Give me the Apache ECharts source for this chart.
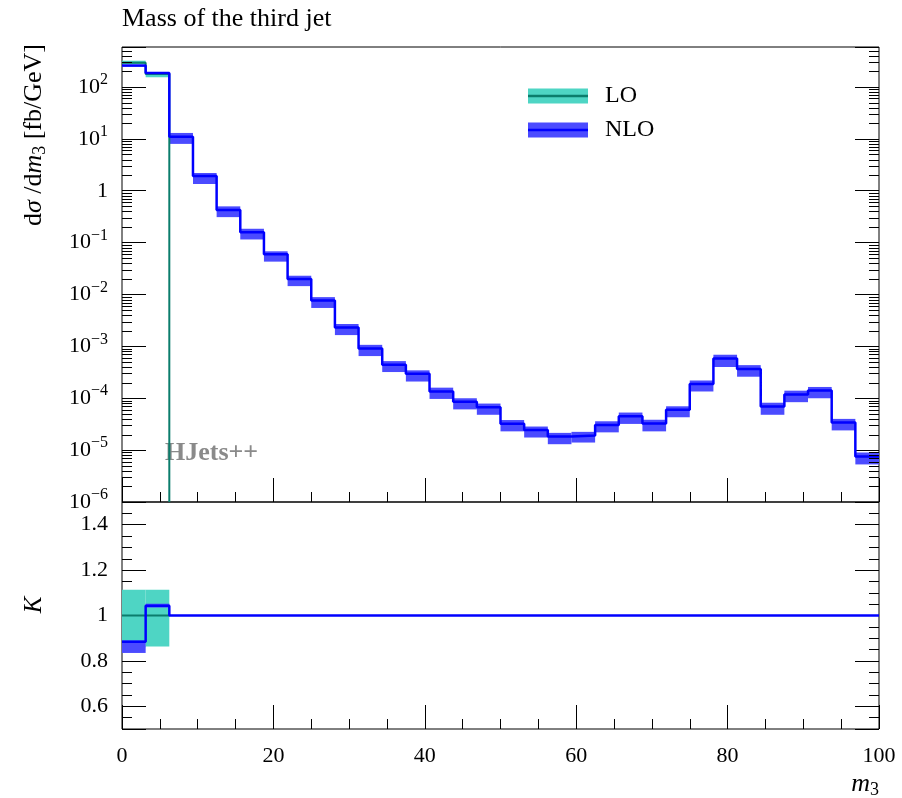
<!DOCTYPE html>
<html><head><meta charset="utf-8">
<script src="https://cdn.jsdelivr.net/npm/echarts@6/dist/echarts.min.js"></script>
<style>html,body{margin:0;padding:0;background:#fff}#c{width:902px;height:798px}</style>
</head><body><div id="c"></div>
<script>
// ---- data ----
const binEdges = [0, 3.125, 6.25, 9.375, 12.5, 15.625, 18.75, 21.875, 25, 28.125, 31.25, 34.375, 37.5, 40.625, 43.75, 46.875, 50, 53.125, 56.25, 59.375, 62.5, 65.625, 68.75, 71.875, 75, 78.125, 81.25, 84.375, 87.5, 90.625, 93.75, 96.875, 100];
const nloValues = [260, 186, 11.0, 1.93, 0.427, 0.158, 0.0597, 0.0199, 0.00764, 0.0023, 9.08e-4, 4.41e-4, 2.95e-4, 1.35e-4, 8.53e-5, 6.73e-5, 3.21e-5, 2.43e-5, 1.83e-5, 1.91e-5, 3.05e-5, 4.52e-5, 3.26e-5, 5.97e-5, 1.89e-4, 5.82e-4, 3.68e-4, 6.92e-5, 1.18e-4, 1.41e-4, 3.40e-5, 7.53e-6];
const nloUpper = [262, 187, 13.0, 2.2, 0.50, 0.185, 0.068, 0.023, 0.0089, 0.0027, 1.07e-3, 5.2e-4, 3.45e-4, 1.6e-4, 1.0e-4, 7.9e-5, 3.8e-5, 2.85e-5, 2.15e-5, 2.25e-5, 3.6e-5, 5.3e-5, 3.85e-5, 7.0e-5, 2.2e-4, 6.9e-4, 4.35e-4, 8.2e-5, 1.4e-4, 1.65e-4, 4.0e-5, 9.0e-6];
const nloLower = [245, 184, 8.0, 1.35, 0.31, 0.115, 0.043, 0.0145, 0.0055, 0.00165, 6.5e-4, 3.2e-4, 2.1e-4, 9.7e-5, 6.1e-5, 4.8e-5, 2.3e-5, 1.75e-5, 1.3e-5, 1.4e-5, 2.2e-5, 3.2e-5, 2.3e-5, 4.3e-5, 1.35e-4, 4.0e-4, 2.6e-4, 4.8e-5, 8.4e-5, 1.0e-4, 2.4e-5, 5.3e-6];
const loValues = [294, 178, 0];
const loUpper = [321, 194];
const loLower = [277, 154];
const kNlo = [0.884, 1.043, 1, 1, 1, 1, 1, 1, 1, 1, 1, 1, 1, 1, 1, 1, 1, 1, 1, 1, 1, 1, 1, 1, 1, 1, 1, 1, 1, 1, 1, 1];
const kNloUpper = [0.89, 1.052];
const kNloLower = [0.835, 1.035];
const kLo = [1, 1];
const kLoUpper = [1.113, 1.113];
const kLoLower = [0.86, 0.863];
const xTickStep = 20;
const logMin = 1e-6, logMax = 590;
const legendNames = ['LO', 'NLO'];

// ---- helpers ----
const SERIF = '"Liberation Serif", "DejaVu Serif", serif';
const C_LO_BAND = '#4ed5c4', C_LO_LINE = '#0b7d6c', C_NLO_BAND = '#4b4bff', C_NLO_LINE = '#0000ff';

function stepPoints(vals, dropTo) {
  const pts = [];
  for (let i = 0; i < vals.length; i++) {
    const v = vals[i];
    if (v == null) break;
    if (v <= 0) { if (dropTo != null) pts.push([binEdges[i], dropTo]); break; }
    pts.push([binEdges[i], v], [binEdges[i + 1], v]);
  }
  return pts;
}
function bandData(lo, hi) {
  const d = [];
  for (let i = 0; i < lo.length; i++) {
    if (lo[i] != null && hi[i] != null) d.push([binEdges[i], binEdges[i + 1], lo[i], hi[i]]);
  }
  return d;
}
function bandRender(color) {
  return function (params, api) {
    const a = api.coord([api.value(0), api.value(3)]);
    const b = api.coord([api.value(1), api.value(2)]);
    return { type: 'rect', shape: { x: a[0], y: a[1], width: b[0] - a[0], height: b[1] - a[1] }, style: { fill: color } };
  };
}
// minor tick positions of the log axis (2..9 per decade)
const logMinorTicks = [];
for (let e = -6; e <= 2; e++) for (let m = 2; m <= 9; m++) { const v = m * Math.pow(10, e); if (v < logMax) logMinorTicks.push([0, v]); }

function logLabel(v) {
  const e = Math.log10(v), r = Math.round(e);
  if (Math.abs(e - r) > 1e-6) return '';
  if (r === 0) return '{b|1}';
  return '{b|10}{s|' + (r < 0 ? '\u2212' : '') + Math.abs(r) + '}';
}

const tickCommon = { show: true, inside: true, length: 24, lineStyle: { color: '#000', width: 1 } };
const minorCommon = { show: true, splitNumber: 4, length: 10, lineStyle: { color: '#000', width: 1 } };
const legendText = { fontFamily: SERIF, fontSize: 24, color: '#000', padding: [0, 0, 0, 12] };

const chart = echarts.init(document.getElementById('c'), null, { renderer: 'canvas' });
chart.setOption({
  animation: false,
  backgroundColor: '#fff',
  title: { text: 'Mass of the third jet', left: 117, top: 1, textStyle: { fontFamily: SERIF, fontSize: 26, fontWeight: 'normal', color: '#000' } },
  grid: [
    { left: 122, top: 47, width: 757, height: 455, show: true, borderColor: '#000', borderWidth: 1, backgroundColor: 'transparent' },
    { left: 122, top: 502, width: 757, height: 227, show: true, borderColor: '#000', borderWidth: 1, backgroundColor: 'transparent' }
  ],
  xAxis: [
    { gridIndex: 0, type: 'value', min: 0, max: 100, interval: xTickStep, axisLine: { show: false }, axisTick: tickCommon, minorTick: minorCommon, axisLabel: { show: false }, splitLine: { show: false } },
    { gridIndex: 1, type: 'value', min: 0, max: 100, interval: xTickStep, axisLine: { show: false }, axisTick: tickCommon, minorTick: minorCommon,
      axisLabel: { show: true, margin: 16, fontFamily: SERIF, fontSize: 22, color: '#000' }, splitLine: { show: false } }
  ],
  yAxis: [
    { gridIndex: 0, type: 'log', logBase: 10, min: logMin, max: logMax, interval: 1, axisLine: { show: false }, axisTick: tickCommon, splitLine: { show: false },
      axisLabel: { show: true, margin: 14, formatter: logLabel,
        rich: { b: { fontFamily: SERIF, fontSize: 22, color: '#000', lineHeight: 30 }, s: { fontFamily: SERIF, fontSize: 16, color: '#000', lineHeight: 14, verticalAlign: 'top' } } } },
    { gridIndex: 0, type: 'log', logBase: 10, min: logMin, max: logMax, interval: 1, position: 'right', axisLine: { show: false }, axisTick: tickCommon, splitLine: { show: false }, axisLabel: { show: false } },
    { gridIndex: 1, type: 'value', min: 0.5, max: 1.5, splitNumber: 5, axisLine: { show: false }, axisTick: tickCommon, minorTick: minorCommon, splitLine: { show: false },
      axisLabel: { show: true, margin: 14, showMinLabel: false, showMaxLabel: false, fontFamily: SERIF, fontSize: 22, color: '#000' } },
    { gridIndex: 1, type: 'value', min: 0.5, max: 1.5, splitNumber: 5, position: 'right', axisLine: { show: false }, axisTick: tickCommon, minorTick: minorCommon, splitLine: { show: false }, axisLabel: { show: false } }
  ],
  legend: [
    { data: legendNames, orient: 'vertical', left: 523, top: 79, itemWidth: 60, itemHeight: 15, itemGap: 10, icon: 'rect', selectedMode: false, textStyle: legendText },
    { data: legendNames.map(n => n + ' line'), orient: 'vertical', left: 523, top: 79, itemWidth: 60, itemHeight: 15, itemGap: 10, selectedMode: false,
      icon: 'path://M0,0 L0,0 M0,6.2 L60,6.2 L60,8.8 L0,8.8 Z M60,15 L60,15',
      formatter: function (n) { return n.replace(' line', ''); },
      textStyle: Object.assign({}, legendText, { color: 'rgba(0,0,0,0)' }) }
  ],
  graphic: [
    { type: 'text', left: 165, top: 440, style: { text: 'HJets++', font: 'bold 26px ' + SERIF, fill: '#8a8a8a' } },
    { type: 'text', x: 34, y: 44, rotation: Math.PI / 2,
      style: { text: '{r|d}{i|\u03c3}{r| /d}{i|m}{s|3}{r| [fb/GeV]}', align: 'right', verticalAlign: 'middle',
        rich: { r: { font: '26px ' + SERIF, fill: '#000', lineHeight: 30 }, i: { font: 'italic 26px ' + SERIF, fill: '#000', lineHeight: 30 },
          s: { font: '18px ' + SERIF, fill: '#000', lineHeight: 17, verticalAlign: 'bottom' } } } },
    { type: 'text', x: 34, y: 605, rotation: Math.PI / 2, style: { text: 'K', font: 'italic 25px ' + SERIF, fill: '#000', align: 'center', verticalAlign: 'middle' } },
    { type: 'text', right: 23, top: 771,
      style: { text: '{i|m}{s|3}', rich: { i: { font: 'italic 26px ' + SERIF, fill: '#000', lineHeight: 30 }, s: { font: '18px ' + SERIF, fill: '#000', lineHeight: 17, verticalAlign: 'bottom' } } } }
  ],
  series: [
    { name: 'LO', type: 'custom', xAxisIndex: 0, yAxisIndex: 0, itemStyle: { color: C_LO_BAND }, renderItem: bandRender(C_LO_BAND), encode: { x: [0, 1], y: [2, 3] }, data: bandData(loLower, loUpper), z: 2 },
    { name: 'NLO', type: 'custom', xAxisIndex: 0, yAxisIndex: 0, itemStyle: { color: C_NLO_BAND }, renderItem: bandRender(C_NLO_BAND), encode: { x: [0, 1], y: [2, 3] }, data: bandData(nloLower, nloUpper), z: 3 },
    { name: 'LO line', type: 'line', xAxisIndex: 0, yAxisIndex: 0, showSymbol: false, symbol: 'none', itemStyle: { color: C_LO_LINE }, lineStyle: { color: C_LO_LINE, width: 2 }, data: stepPoints(loValues, logMin), z: 4 },
    { name: 'NLO line', type: 'line', xAxisIndex: 0, yAxisIndex: 0, showSymbol: false, symbol: 'none', itemStyle: { color: C_NLO_LINE }, lineStyle: { color: C_NLO_LINE, width: 2.5 }, data: stepPoints(nloValues), z: 5 },
    { name: 'log minor ticks', type: 'custom', xAxisIndex: 0, yAxisIndex: 0, silent: true, encode: { x: 0, y: 1 }, data: logMinorTicks, z: 6,
      renderItem: function (params, api) {
        const v = api.value(1);
        const l = api.coord([0, v]), r = api.coord([100, v]);
        const y = Math.round(l[1]) + 0.5;
        return { type: 'group', children: [
          { type: 'line', shape: { x1: l[0], y1: y, x2: l[0] + 10, y2: y }, style: { stroke: '#000', lineWidth: 1 } },
          { type: 'line', shape: { x1: r[0], y1: y, x2: r[0] - 10, y2: y }, style: { stroke: '#000', lineWidth: 1 } }
        ] };
      } },
    { name: 'LO ratio band', type: 'custom', xAxisIndex: 1, yAxisIndex: 2, renderItem: bandRender(C_LO_BAND), encode: { x: [0, 1], y: [2, 3] }, data: bandData(kLoLower, kLoUpper), z: 2 },
    { name: 'NLO ratio band', type: 'custom', xAxisIndex: 1, yAxisIndex: 2, renderItem: bandRender(C_NLO_BAND), encode: { x: [0, 1], y: [2, 3] }, data: bandData(kNloLower, kNloUpper), z: 3 },
    { name: 'LO ratio', type: 'line', xAxisIndex: 1, yAxisIndex: 2, showSymbol: false, symbol: 'none', lineStyle: { color: C_LO_LINE, width: 2 }, data: stepPoints(kLo), z: 4 },
    { name: 'NLO ratio', type: 'line', xAxisIndex: 1, yAxisIndex: 2, showSymbol: false, symbol: 'none', lineStyle: { color: C_NLO_LINE, width: 2.5 }, data: stepPoints(kNlo), z: 5 }
  ]
});
</script></body></html>
